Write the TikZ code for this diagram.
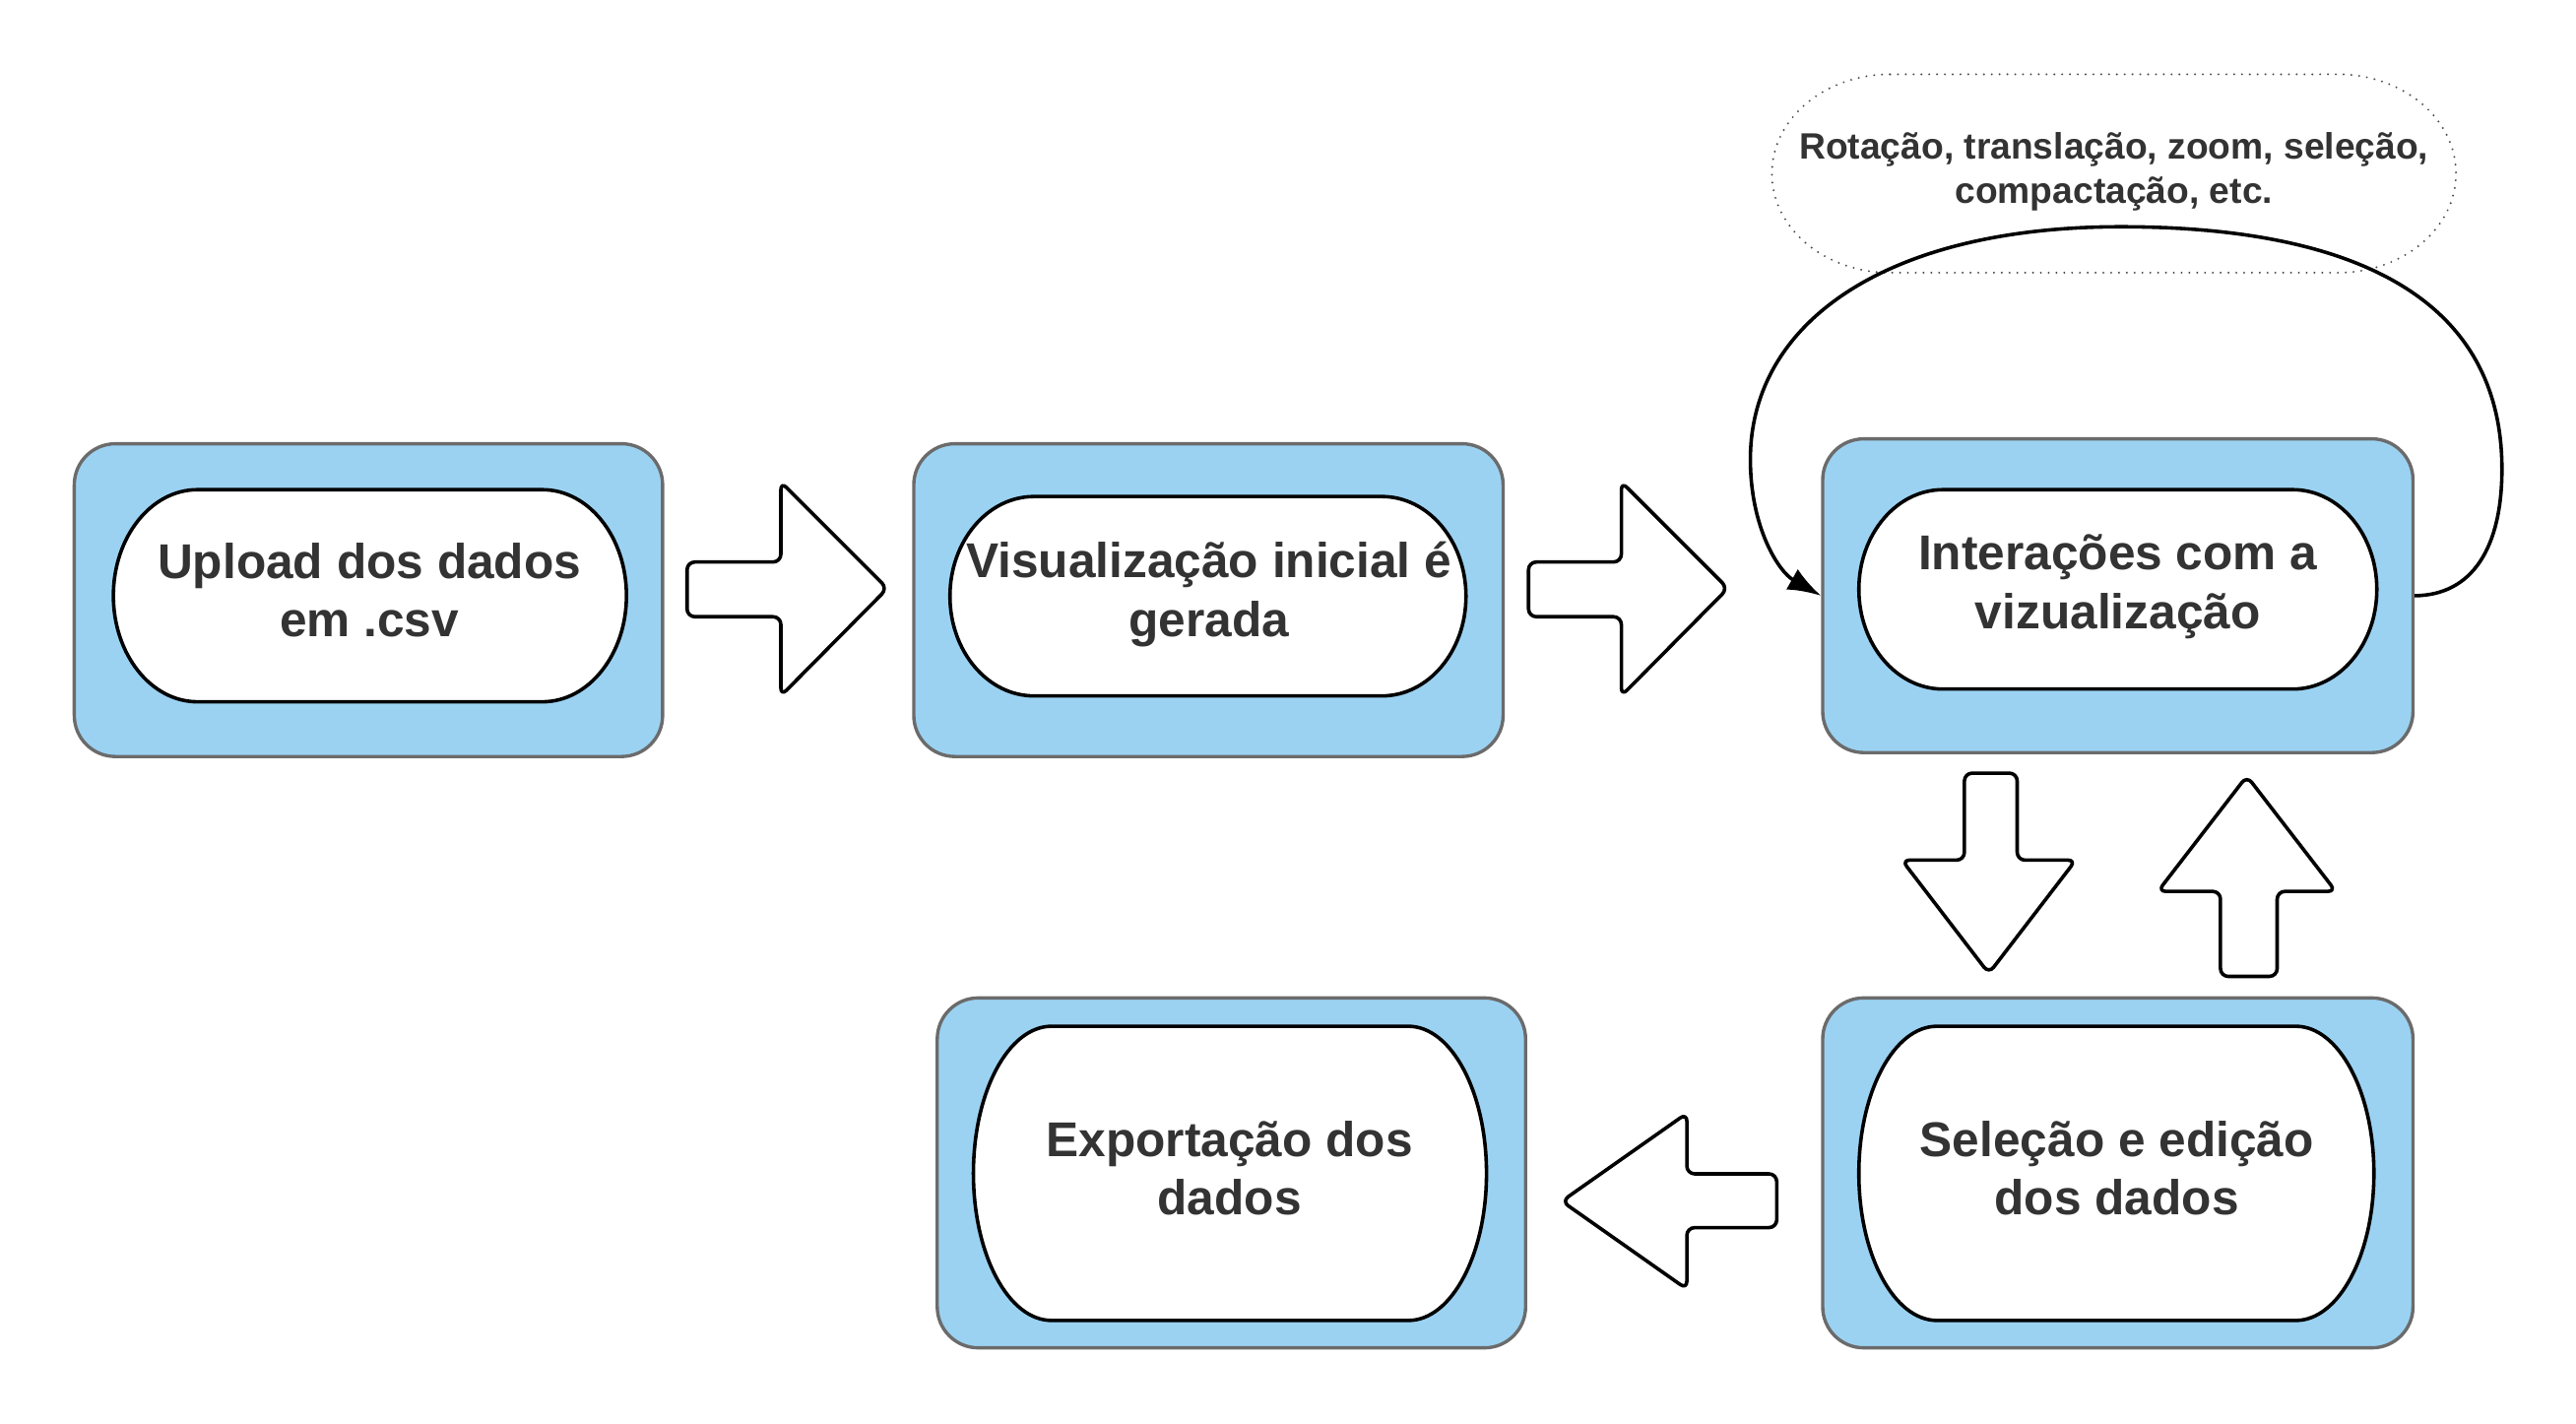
\documentclass[tikz,border=0pt]{standalone}
\usepackage{fontspec}
\setmainfont{Liberation Sans}
\usetikzlibrary{arrows.meta}
\definecolor{boxblue}{HTML}{9BD2F2}
\definecolor{boxgray}{HTML}{6B6B6B}
\definecolor{txt}{HTML}{333333}
\newcommand{\stadpath}[6]{%
  \draw[#6] ({#1+#5},-#2) -- ({#3-#5},-#2)
    arc[start angle=90,end angle=-90,x radius=#5,y radius={(#4-#2)/2}]
    -- ({#1+#5},-#4)
    arc[start angle=270,end angle=90,x radius=#5,y radius={(#4-#2)/2}] -- cycle;}
\begin{document}
\begin{tikzpicture}[x=0.5pt,y=0.5pt,
  box/.style={rectangle,rounded corners=21pt,fill=boxblue,draw=boxgray,line width=1.7pt,inner sep=0pt},
  stad/.style={draw=black,fill=white,line width=1.8pt},
  lbl/.style={text=txt,font=\bfseries\fontsize{25}{30}\selectfont,align=center,inner sep=0pt},
  small/.style={text=txt,font=\bfseries\fontsize{18.75}{22.5}\selectfont,align=center,inner sep=0pt},
  blk/.style={draw=black,fill=white,line width=1.8pt,rounded corners=4pt,line join=round},
  notestyle/.style={draw=black!70,line width=1.1pt,line cap=round,dash pattern=on 0pt off 4pt},
  loop/.style={draw=black,line width=1.8pt,-{Latex[length=17pt,width=12pt]}}]
\useasboundingbox (0,0) rectangle (2635.8,-1456.9);
% dotted note
\stadpath{1813}{76}{2513}{279}{121}{notestyle}
\node[small] (note) at (2163,-176) {Rotação, translação, zoom, seleção,\\compactação, etc.};
% boxes
\node[box,minimum width=301pt,minimum height=160pt] (b1) at (377,-614) {};
\node[box,minimum width=301.5pt,minimum height=160pt] (b2) at (1236.5,-614) {};
\node[box,minimum width=302pt,minimum height=160.5pt] (b3) at (2167,-609.5) {};
\node[box,minimum width=301pt,minimum height=179pt] (b4) at (1260,-1200) {};
\node[box,minimum width=302pt,minimum height=179pt] (b5) at (2167,-1200) {};
% inner stadiums
\stadpath{116}{501}{641}{718}{86}{stad}
\stadpath{972}{508}{1500}{712}{86}{stad}
\stadpath{1902}{501}{2432}{705}{86}{stad}
\stadpath{996}{1050}{1521}{1351}{80}{stad}
\stadpath{1902}{1050}{2429}{1351}{80}{stad}
% labels
\node[lbl] (t1) at (378,-604) {Upload dos dados\\em .csv};
\node[lbl] (t2) at (1237,-608) {Visualização inicial é\\gerada};
\node[lbl] (t3) at (2167,-600) {Interações com a\\vizualização};
\node[lbl] (t4) at (1258,-1195) {Exportação dos\\dados};
\node[lbl] (t5) at (2166,-1195) {Seleção e edição\\dos dados};
% block arrows
\draw[blk] (703,-575) -- (799,-575) -- (799,-493) -- (908,-602) -- (799,-712) -- (799,-631) -- (703,-631) -- cycle;
\draw[blk] (1564,-575) -- (1659,-575) -- (1659,-493) -- (1768,-602) -- (1659,-712) -- (1659,-631) -- (1564,-631) -- cycle;
\draw[blk] (2010,-791) -- (2064,-791) -- (2064,-880) -- (2124,-880) -- (2035,-996) -- (1946,-880) -- (2010,-880) -- cycle;
\draw[blk] (2272,-999) -- (2330,-999) -- (2330,-912) -- (2390,-912) -- (2299,-794) -- (2208,-912) -- (2272,-912) -- cycle;
\draw[blk] (1818,-1201) -- (1726,-1201) -- (1726,-1139) -- (1598,-1229) -- (1726,-1319) -- (1726,-1256) -- (1818,-1256) -- cycle;
% loop
\draw[loop] (b3.east) .. controls (2530,-609) and (2560,-560) .. (2560,-480)
  .. controls (2560,-300) and (2400,-232) .. (2170,-232)
  .. controls (1930,-232) and (1791,-330) .. (1791,-470)
  .. controls (1791,-540) and (1820,-585) .. (b3.west);
\end{tikzpicture}
\end{document}
